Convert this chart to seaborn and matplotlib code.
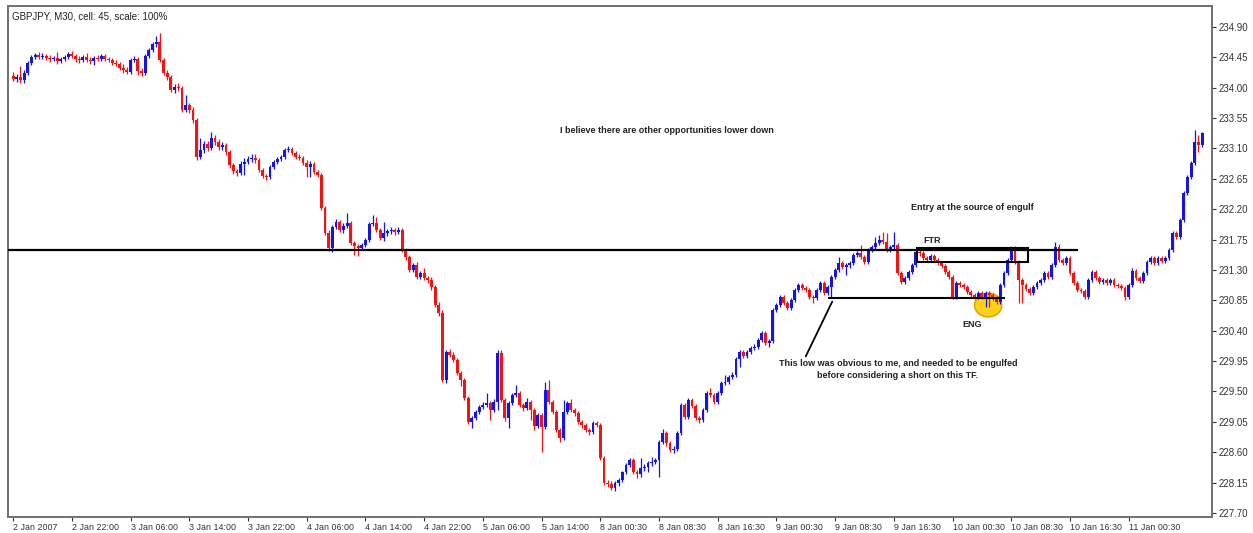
import numpy as np
import pandas as pd
import matplotlib
matplotlib.use("Agg")
import matplotlib.pyplot as plt
from matplotlib.patches import Rectangle, Ellipse
import seaborn as sns

# GBPJPY M30, 2 Jan 2007 .. 11 Jan 2007, one value per bar
first_open = 234.17
closes = [
    234.13, 234.16, 234.11, 234.22, 234.37, 234.46, 234.49, 234.46, 234.47, 234.44,
    234.43, 234.44, 234.40, 234.43, 234.46, 234.50, 234.47, 234.43, 234.41, 234.46,
    234.41, 234.40, 234.44, 234.43, 234.47, 234.43, 234.41, 234.37, 234.35, 234.29,
    234.26, 234.23, 234.41, 234.43, 234.25, 234.22, 234.47, 234.56, 234.65, 234.68,
    234.41, 234.22, 234.16, 233.97, 234.01, 234.00, 233.67, 233.74, 233.67, 233.52,
    232.97, 233.08, 233.17, 233.11, 233.26, 233.20, 233.12, 233.15, 233.05, 232.86,
    232.77, 232.74, 232.87, 232.90, 232.94, 232.96, 232.93, 232.78, 232.69, 232.68,
    232.83, 232.90, 232.94, 232.97, 233.08, 233.09, 233.03, 232.97, 232.96, 232.89,
    232.83, 232.87, 232.75, 232.71, 232.22, 231.85, 231.63, 231.94, 232.01, 231.89,
    231.95, 232.00, 231.70, 231.66, 231.63, 231.67, 231.74, 231.98, 232.00, 231.89,
    231.77, 231.85, 231.88, 231.89, 231.86, 231.89, 231.60, 231.49, 231.30, 231.37,
    231.20, 231.26, 231.18, 231.15, 231.05, 230.78, 230.66, 229.67, 230.09, 230.04,
    229.97, 229.77, 229.67, 229.40, 229.05, 229.11, 229.20, 229.27, 229.30, 229.33,
    229.23, 229.34, 230.07, 229.37, 229.11, 229.33, 229.45, 229.48, 229.30, 229.26,
    229.34, 229.23, 228.99, 229.15, 228.97, 229.52, 229.34, 229.20, 228.93, 228.81,
    229.20, 229.33, 229.23, 229.18, 229.05, 229.00, 228.93, 228.90, 229.03, 229.00,
    228.51, 228.14, 228.13, 228.07, 228.14, 228.19, 228.30, 228.41, 228.49, 228.31,
    228.27, 228.37, 228.38, 228.44, 228.46, 228.49, 228.75, 228.89, 228.74, 228.63,
    228.65, 228.89, 229.30, 229.12, 229.37, 229.29, 229.11, 229.08, 229.23, 229.48,
    229.45, 229.34, 229.48, 229.63, 229.64, 229.71, 229.74, 229.98, 230.09, 230.03,
    230.09, 230.14, 230.16, 230.26, 230.37, 230.22, 230.25, 230.71, 230.78, 230.90,
    230.81, 230.74, 230.86, 231.00, 231.08, 231.03, 231.00, 230.90, 230.89, 231.00,
    231.11, 230.96, 231.05, 231.20, 231.30, 231.40, 231.34, 231.37, 231.40, 231.52,
    231.55, 231.49, 231.42, 231.60, 231.64, 231.70, 231.74, 231.71, 231.60, 231.64,
    231.67, 231.26, 231.12, 231.18, 231.27, 231.37, 231.57, 231.55, 231.48, 231.45,
    231.51, 231.45, 231.40, 231.36, 231.27, 231.20, 230.90, 231.11, 231.08, 231.05,
    230.97, 230.93, 230.90, 230.96, 230.90, 230.96, 230.93, 230.89, 230.83, 231.08,
    231.26, 231.45, 231.63, 231.42, 231.15, 231.08, 231.02, 230.96, 231.05, 231.11,
    231.15, 231.26, 231.20, 231.37, 231.64, 231.45, 231.40, 231.48, 231.26, 231.11,
    231.00, 230.99, 230.90, 231.15, 231.27, 231.18, 231.12, 231.15, 231.11, 231.15,
    231.08, 231.06, 231.03, 230.90, 231.08, 231.29, 231.18, 231.14, 231.26, 231.42,
    231.48, 231.40, 231.48, 231.43, 231.48, 231.60, 231.85, 231.79, 232.04, 232.44,
    232.68, 232.89, 233.20, 233.15, 233.33,
]
highs = [
    234.23, 234.20, 234.32, 234.26, 234.40, 234.49, 234.51, 234.53, 234.51, 234.50,
    234.49, 234.47, 234.53, 234.46, 234.49, 234.53, 234.54, 234.50, 234.47, 234.49,
    234.51, 234.46, 234.47, 234.49, 234.50, 234.50, 234.46, 234.44, 234.41, 234.38,
    234.35, 234.31, 234.44, 234.47, 234.46, 234.29, 234.50, 234.59, 234.68, 234.77,
    234.81, 234.44, 234.26, 234.19, 234.06, 234.07, 234.03, 233.89, 233.77, 233.71,
    233.55, 233.26, 233.21, 233.21, 233.34, 233.30, 233.24, 233.20, 233.18, 233.08,
    232.89, 232.80, 232.91, 232.96, 232.99, 233.02, 233.02, 232.96, 232.81, 232.72,
    232.86, 232.93, 232.97, 233.00, 233.11, 233.14, 233.12, 233.06, 233.02, 232.99,
    232.93, 232.91, 232.90, 232.78, 232.74, 232.25, 231.89, 231.97, 232.06, 232.04,
    232.00, 232.14, 232.03, 231.73, 231.69, 231.70, 231.77, 232.01, 232.11, 232.09,
    231.92, 232.01, 231.91, 231.94, 231.92, 231.94, 231.92, 231.63, 231.52, 231.40,
    231.42, 231.29, 231.33, 231.21, 231.20, 231.08, 230.83, 230.71, 230.11, 230.13,
    230.09, 230.00, 229.80, 229.70, 229.43, 229.14, 229.23, 229.30, 229.34, 229.48,
    229.36, 229.39, 230.11, 230.11, 229.40, 229.36, 229.48, 229.60, 229.51, 229.33,
    229.40, 229.37, 229.26, 229.18, 229.18, 229.64, 229.67, 229.37, 229.23, 228.96,
    229.37, 229.36, 229.39, 229.26, 229.21, 229.08, 229.03, 228.96, 229.06, 229.06,
    229.03, 228.54, 228.19, 228.17, 228.17, 228.22, 228.32, 228.44, 228.51, 228.51,
    228.34, 228.51, 228.43, 228.47, 228.53, 228.51, 228.78, 228.94, 228.91, 228.77,
    228.69, 228.91, 229.33, 229.33, 229.40, 229.40, 229.31, 229.14, 229.26, 229.51,
    229.55, 229.48, 229.51, 229.66, 229.74, 229.74, 229.79, 230.01, 230.11, 230.11,
    230.11, 230.17, 230.20, 230.29, 230.40, 230.40, 230.28, 230.74, 230.81, 230.93,
    230.93, 230.84, 230.89, 231.03, 231.11, 231.11, 231.06, 231.03, 230.93, 231.03,
    231.14, 231.14, 231.08, 231.23, 231.33, 231.49, 231.43, 231.40, 231.43, 231.55,
    231.58, 231.67, 231.52, 231.63, 231.67, 231.79, 231.82, 231.86, 231.85, 231.67,
    231.86, 231.70, 231.29, 231.21, 231.30, 231.40, 231.60, 231.61, 231.58, 231.51,
    231.54, 231.54, 231.48, 231.43, 231.39, 231.30, 231.23, 231.14, 231.14, 231.11,
    231.08, 231.00, 230.96, 230.99, 230.99, 230.99, 230.99, 230.96, 230.91, 231.11,
    231.29, 231.48, 231.66, 231.66, 231.45, 231.18, 231.11, 231.05, 231.08, 231.14,
    231.18, 231.29, 231.29, 231.40, 231.71, 231.69, 231.48, 231.51, 231.51, 231.29,
    231.14, 231.03, 231.02, 231.18, 231.30, 231.30, 231.21, 231.18, 231.18, 231.18,
    231.18, 231.11, 231.09, 231.06, 231.11, 231.33, 231.31, 231.21, 231.29, 231.45,
    231.51, 231.51, 231.51, 231.51, 231.51, 231.63, 231.88, 231.88, 232.07, 232.47,
    232.71, 232.91, 233.37, 233.30, 233.34,
]
lows = [
    234.10, 234.09, 234.07, 234.07, 234.19, 234.34, 234.43, 234.43, 234.43, 234.41,
    234.38, 234.40, 234.35, 234.37, 234.40, 234.43, 234.44, 234.38, 234.37, 234.38,
    234.38, 234.35, 234.34, 234.40, 234.40, 234.40, 234.38, 234.34, 234.32, 234.26,
    234.22, 234.20, 234.20, 234.38, 234.19, 234.17, 234.19, 234.44, 234.53, 234.60,
    234.38, 234.19, 234.11, 233.94, 233.92, 233.95, 233.64, 233.64, 233.63, 233.48,
    232.93, 232.94, 233.03, 233.06, 233.08, 233.15, 233.08, 233.08, 233.00, 232.81,
    232.72, 232.69, 232.71, 232.71, 232.87, 232.90, 232.89, 232.75, 232.66, 232.63,
    232.65, 232.80, 232.87, 232.91, 232.94, 233.05, 233.00, 232.94, 232.93, 232.86,
    232.68, 232.68, 232.72, 232.68, 232.19, 231.82, 231.58, 231.57, 231.91, 231.86,
    231.85, 231.92, 231.67, 231.52, 231.51, 231.60, 231.64, 231.71, 231.95, 231.86,
    231.74, 231.73, 231.80, 231.83, 231.82, 231.83, 231.57, 231.45, 231.27, 231.27,
    231.17, 231.17, 231.15, 231.11, 231.00, 230.75, 230.62, 229.64, 229.63, 230.01,
    229.94, 229.74, 229.58, 229.37, 229.02, 228.96, 229.08, 229.17, 229.24, 229.27,
    229.08, 229.20, 229.23, 229.34, 229.06, 228.96, 229.30, 229.42, 229.27, 229.21,
    229.23, 229.08, 228.93, 228.96, 228.60, 228.94, 229.31, 229.17, 228.90, 228.75,
    228.78, 229.17, 229.20, 229.14, 229.02, 228.96, 228.90, 228.86, 228.87, 228.97,
    228.49, 228.11, 228.09, 228.04, 228.03, 228.10, 228.16, 228.27, 228.38, 228.28,
    228.22, 228.23, 228.32, 228.30, 228.40, 228.43, 228.23, 228.72, 228.69, 228.60,
    228.59, 228.62, 228.86, 229.09, 229.09, 229.26, 229.08, 229.03, 229.05, 229.20,
    229.42, 229.31, 229.31, 229.45, 229.60, 229.61, 229.69, 229.71, 229.86, 230.00,
    230.00, 230.06, 230.11, 230.13, 230.23, 230.19, 230.16, 230.22, 230.68, 230.75,
    230.78, 230.71, 230.71, 230.83, 230.97, 231.00, 230.97, 230.87, 230.81, 230.86,
    230.97, 230.93, 230.93, 230.89, 231.17, 231.27, 231.31, 231.23, 231.33, 231.37,
    231.49, 231.46, 231.39, 231.39, 231.57, 231.61, 231.67, 231.69, 231.57, 231.57,
    231.61, 231.23, 231.09, 231.09, 231.15, 231.24, 231.34, 231.51, 231.45, 231.42,
    231.42, 231.42, 231.37, 231.33, 231.24, 231.17, 230.87, 230.87, 231.05, 231.02,
    230.94, 230.90, 230.87, 230.87, 230.87, 230.75, 230.75, 230.86, 230.80, 230.80,
    231.05, 231.23, 231.42, 231.39, 230.81, 230.81, 230.99, 230.93, 230.93, 231.02,
    231.08, 231.12, 231.17, 231.17, 231.34, 231.42, 231.37, 231.37, 231.23, 231.08,
    230.97, 230.96, 230.87, 230.87, 231.12, 231.15, 231.09, 231.09, 231.08, 231.08,
    231.05, 231.03, 231.00, 230.86, 230.87, 231.05, 231.15, 231.11, 231.11, 231.23,
    231.39, 231.37, 231.37, 231.40, 231.40, 231.45, 231.57, 231.76, 231.76, 232.01,
    232.41, 232.65, 232.86, 233.05, 233.12,
]

time_labels = ["2 Jan 2007", "2 Jan 22:00", "3 Jan 06:00", "3 Jan 14:00", "3 Jan 22:00",
               "4 Jan 06:00", "4 Jan 14:00", "4 Jan 22:00", "5 Jan 06:00", "5 Jan 14:00",
               "8 Jan 00:30", "8 Jan 08:30", "8 Jan 16:30", "9 Jan 00:30", "9 Jan 08:30",
               "9 Jan 16:30", "10 Jan 00:30", "10 Jan 08:30", "10 Jan 16:30", "11 Jan 00:30"]
price_ticks = [227.70, 228.15, 228.60, 229.05, 229.50, 229.95, 230.40, 230.85, 231.30,
               231.75, 232.20, 232.65, 233.10, 233.55, 234.00, 234.45, 234.90]
level = 231.60          # horizontal level drawn across the chart
ftr_low, ftr_high = 231.42, 231.63
obvious_low = 230.89

df = pd.DataFrame({"close": closes, "high": highs, "low": lows})
df["open"] = df["close"].shift(1).fillna(first_open)
df["bull"] = df["close"] >= df["open"]

BLUE = "#1414e6"
RED = "#f01414"

sns.set_style("white")
plt.rcParams["font.family"] = ["Liberation Sans", "DejaVu Sans"]
note_font = ["Liberation Sans Narrow", "Liberation Sans", "DejaVu Sans"]

fig = plt.figure(figsize=(12.53, 5.33), dpi=100)
ax = fig.add_axes([8 / 1253, 16 / 533, 1204 / 1253, 511 / 533])

x = df.index.values
cols = np.where(df["bull"], BLUE, RED)
ax.vlines(x, df["low"], df["high"], colors=cols, lw=0.9, zorder=3)
body = (df["close"] - df["open"]).abs().clip(lower=0.015)
bottom = df[["open", "close"]].min(axis=1)
ax.bar(x, body, bottom=bottom, width=0.78, color=cols, linewidth=0, zorder=4)

xmin, xmax = -1.4, 326.7
ax.set_xlim(xmin, xmax)
ax.set_ylim(227.64, 235.21)

# annotations
ax.hlines(level, xmin, 290.2, color="black", lw=1.6, zorder=5)
ax.add_patch(Rectangle((246.3, ftr_low), 30.3, ftr_high - ftr_low, fill=False,
                       edgecolor="black", lw=1.5, zorder=5))
ax.hlines(obvious_low, 222.1, 270.3, color="black", lw=1.5, zorder=5)
ax.plot([223.2, 216.0], [230.83, 230.02], color="black", lw=1.3, zorder=5)
ax.add_patch(Ellipse((265.7, 230.78), 7.4, 0.35, facecolor="#ffd21a",
                     edgecolor="#f0a000", lw=1.2, zorder=2))

note = dict(ha="center", va="center", fontsize=6.5, fontweight="bold",
            family=note_font, color="#222222")
ax.text(250.4, 231.73, "FTR", **note)
ax.text(261.3, 230.49, "ENG", **note)
ax.text(261.3, 232.22, "Entry at the source of engulf", **note)
ax.text(178.2, 233.36, "I believe there are other opportunities lower down", **note)
ax.text(241.1, 229.92, "This low was obvious to me, and needed to be engulfed", **note)
ax.text(241.1, 229.73, "before considering a short on this TF.", **note)
ax.text(0.0033, 0.980, "GBPJPY, M30, cell: 45, scale: 100%", transform=ax.transAxes,
        ha="left", va="center", fontsize=7, color="#222222")

# axes
ax.yaxis.tick_right()
ax.set_yticks(price_ticks)
ax.set_yticklabels([f"{v:.2f}" for v in price_ticks])
ax.set_xticks(np.arange(len(time_labels)) * 16)
ax.set_xticklabels(time_labels, ha="left")
ax.tick_params(axis="y", right=True, left=False, length=3, width=0.8, pad=2,
               labelsize=7, colors="#333333")
ax.tick_params(axis="x", bottom=True, length=3, width=0.8, pad=1, labelsize=6.4,
               colors="#333333")
for s in ax.spines.values():
    s.set_color("#707070")
    s.set_linewidth(1.4)
ax.grid(False)

fig.savefig("out.png", dpi=100)
